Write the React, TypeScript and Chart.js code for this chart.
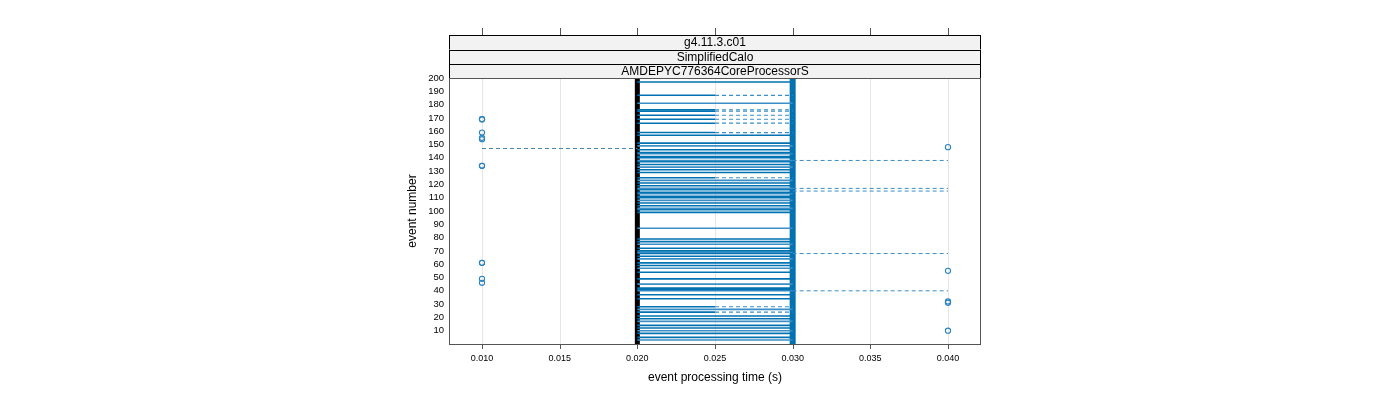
import React, { useEffect, useRef } from "react";
import { Chart, registerables } from "chart.js";
Chart.register(...registerables);

const stripLabels = ["g4.11.3.c01", "SimplifiedCalo", "AMDEPYC776364CoreProcessorS"];
const xTicks = [0.01, 0.015, 0.02, 0.025, 0.03, 0.035, 0.04];
const yTicks = [10, 20, 30, 40, 50, 60, 70, 80, 90, 100, 110, 120, 130, 140, 150, 160, 170, 180, 190, 200];
const xTitle = "event processing time (s)";
const yTitle = "event number";

const boxLow = 0.02;
const boxMid = 0.025;
const boxHigh = 0.03;
const lowEnd = 0.01;
const highEnd = 0.04;

const fullEvents = [197, 181, 157, 151, 149, 146, 144, 143, 141, 140, 138, 137, 135, 133, 131, 129, 123, 121, 119, 117, 116, 114, 113, 111, 110, 108, 106, 104, 102, 101, 99, 87, 79, 77, 75, 72, 70, 69, 68, 66, 64, 61, 59, 57, 54, 49, 45, 42, 41, 40, 37, 34, 26, 21, 19, 17, 14, 12, 10, 8, 5, 3];
const halfEvents = [187, 176, 175, 172, 169, 166, 159, 125, 28, 24];
const lowWhiskerEvents = [147];
const highWhiskerEvents = [138, 117, 115, 68, 40];
const lowOutliers = [169, 169, 159, 155, 154, 134, 134, 61, 61, 49, 46];
const highOutliers = [148, 55, 32, 31, 10];

const BLUE = "#0072B2";
const LIGHT = "#3b8fc6";
const FONT = "'Liberation Sans', Arial, sans-serif";

const seg = (x1: number, x2: number, y: number) => [{ x: x1, y }, { x: x2, y }];

export default function App() {
  const ref = useRef<HTMLCanvasElement>(null);
  useEffect(() => {
    const datasets: any[] = [];
    fullEvents.forEach((e, i) =>
      datasets.push({ data: seg(boxLow, boxHigh, e), showLine: true, borderColor: i % 3 === 1 ? LIGHT : BLUE, borderWidth: 1.6, pointRadius: 0 })
    );
    halfEvents.forEach((e) => {
      datasets.push({ data: seg(boxLow, boxMid, e), showLine: true, borderColor: BLUE, borderWidth: 1.6, pointRadius: 0 });
      datasets.push({ data: seg(boxMid, boxHigh, e), showLine: true, borderColor: LIGHT, borderWidth: 1.2, borderDash: [4, 3], pointRadius: 0 });
    });
    lowWhiskerEvents.forEach((e) =>
      datasets.push({ data: seg(lowEnd, boxLow, e), showLine: true, borderColor: "#4a83b0", borderWidth: 1, borderDash: [4, 3], pointRadius: 0 })
    );
    highWhiskerEvents.forEach((e) =>
      datasets.push({ data: seg(boxHigh, highEnd, e), showLine: true, borderColor: LIGHT, borderWidth: 1, borderDash: [4, 3], pointRadius: 0 })
    );
    datasets.push({ data: [{ x: boxLow, y: 0 }, { x: boxLow, y: 200 }], showLine: true, borderColor: "#000", borderWidth: 5, pointRadius: 0 });
    datasets.push({ data: [{ x: boxHigh, y: 0 }, { x: boxHigh, y: 200 }], showLine: true, borderColor: BLUE, borderWidth: 6, pointRadius: 0 });
    datasets.push({
      data: [...lowOutliers.map((y) => ({ x: lowEnd, y })), ...highOutliers.map((y) => ({ x: highEnd, y }))],
      showLine: false, pointRadius: 2.6, pointBorderWidth: 1.1, pointBackgroundColor: "rgba(255,255,255,0)", pointBorderColor: "#2a84c0",
    });

    const deco = {
      id: "deco",
      beforeDatasetsDraw(chart: any) {
        const { ctx, chartArea: a, scales } = chart;
        ctx.save();
        ctx.strokeStyle = "#e6e6e6";
        ctx.lineWidth = 1;
        xTicks.forEach((v) => {
          const x = Math.round(scales.x.getPixelForValue(v)) + 0.5;
          ctx.beginPath(); ctx.moveTo(x, a.top); ctx.lineTo(x, a.bottom); ctx.stroke();
        });
        ctx.restore();
      },
      afterDraw(chart: any) {
        const { ctx, chartArea: a, scales } = chart;
        ctx.save();
        const rows = [35, 49.5, 64, 78];
        for (let i = 0; i < 3; i++) {
          ctx.fillStyle = "#f2f2f2";
          ctx.fillRect(a.left, rows[i], a.right - a.left, rows[i + 1] - rows[i]);
          ctx.strokeStyle = "#000";
          ctx.lineWidth = 1;
          ctx.strokeRect(a.left + 0.5, Math.round(rows[i]) + 0.5, a.right - a.left - 1, Math.round(rows[i + 1]) - Math.round(rows[i]));
          ctx.fillStyle = "#000";
          ctx.font = `12px ${FONT}`;
          ctx.textAlign = "center";
          ctx.textBaseline = "middle";
          ctx.fillText(stripLabels[i], (a.left + a.right) / 2, (rows[i] + rows[i + 1]) / 2 + 0.5);
        }
        ctx.strokeStyle = "#555";
        ctx.lineWidth = 1;
        ctx.strokeRect(a.left + 0.5, a.top + 0.5, a.right - a.left - 1, a.bottom - a.top);
        xTicks.forEach((v) => {
          const x = Math.round(scales.x.getPixelForValue(v)) + 0.5;
          ctx.beginPath(); ctx.moveTo(x, a.bottom); ctx.lineTo(x, a.bottom + 5); ctx.stroke();
          ctx.beginPath(); ctx.moveTo(x, 28); ctx.lineTo(x, 35); ctx.stroke();
        });
        ctx.fillStyle = "#000";
        ctx.font = `12px ${FONT}`;
        ctx.textAlign = "center";
        ctx.textBaseline = "middle";
        ctx.fillText(xTitle, (a.left + a.right) / 2, 378);
        ctx.translate(413, (a.top + a.bottom) / 2);
        ctx.rotate(-Math.PI / 2);
        ctx.fillText(yTitle, 0, 0);
        ctx.restore();
      },
    };

    const chart = new Chart(ref.current!, {
      type: "scatter",
      data: { datasets },
      options: {
        animation: false,
        responsive: false,
        maintainAspectRatio: false,
        layout: { padding: { left: 400, right: 419, top: 78, bottom: 0 } },
        plugins: { legend: { display: false }, tooltip: { enabled: false } },
        scales: {
          x: {
            type: "linear",
            min: 0.007875,
            max: 0.042125,
            afterFit: (s: any) => { s.height = 56; },
            afterBuildTicks: (s: any) => { s.ticks = xTicks.map((v) => ({ value: v })); },
            grid: { display: false, drawTicks: false },
            border: { display: false },
            ticks: { color: "#000", font: { size: 9, family: FONT }, padding: 9, maxRotation: 0, autoSkip: false, callback: (v: any) => Number(v).toFixed(3) },
          },
          y: {
            type: "linear",
            min: 0,
            max: 200,
            afterFit: (s: any) => { s.width = 49; },
            afterBuildTicks: (s: any) => { s.ticks = yTicks.map((v) => ({ value: v })); },
            grid: { display: false, drawTicks: false },
            border: { display: false },
            ticks: { color: "#000", font: { size: 9.5, family: FONT }, padding: 5, autoSkip: false, callback: (v: any) => String(v) },
          },
        },
      },
      plugins: [deco],
    });
    return () => chart.destroy();
  }, []);
  return (
    <div style={{ position: "absolute", left: 0, top: 0, width: 1400, height: 400 }}>
      <canvas ref={ref} width={1400} height={400} style={{ width: 1400, height: 400 }} />
    </div>
  );
}
